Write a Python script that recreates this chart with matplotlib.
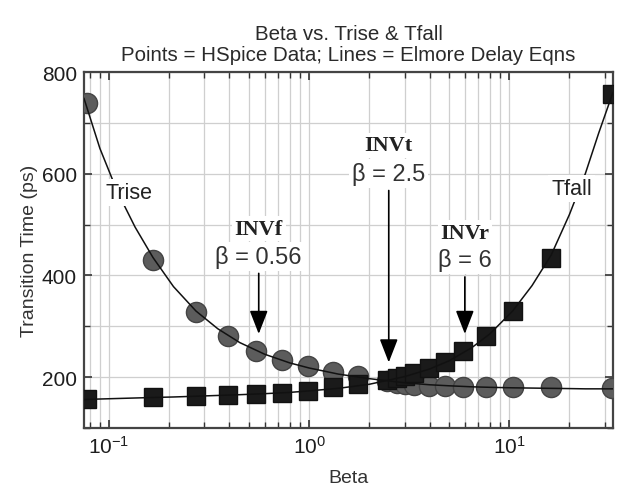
import matplotlib
matplotlib.use("Agg")
import matplotlib.pyplot as plt
from matplotlib.ticker import LogLocator, MultipleLocator, NullFormatter

plt.rcParams["font.family"] = ["Liberation Sans", "DejaVu Sans"]
plt.rcParams["mathtext.default"] = "regular"

# HSpice data points
beta = [0.0774, 0.166, 0.272, 0.395, 0.543, 0.735, 0.985, 1.32, 1.76, 2.45,
        2.75, 3.0, 3.35, 3.95, 4.79, 5.9, 7.66, 10.4, 16.2, 32.6]
trise_pts = [739, 431, 329, 280, 251, 233, 222, 210, 202, 193,
             189, 187, 184, 182, 182, 180, 180, 180, 180, 178]
tfall_pts = [157, 161, 163, 165, 167, 169, 172, 180, 187, 195,
             199, 203, 209, 217, 229, 251, 280, 331, 435, 757]

# Elmore delay curves
beta_line = [0.075, 0.09, 0.11, 0.135, 0.166, 0.21, 0.272, 0.35, 0.45, 0.6,
             0.8, 1.0, 1.4, 2.0, 3.0, 4.0, 5.0, 6.5, 8.0, 10.4,
             13, 16.2, 20, 24, 28, 33]
trise_line = [748, 650, 565, 495, 435, 378, 330, 295, 268, 245,
              228, 218, 206, 197, 189, 185, 183, 181, 180, 179,
              178.5, 178, 177.5, 177, 177, 177]
tfall_line = [156, 157, 158, 159, 160, 161, 162.5, 164, 165.5, 167.5,
              170, 173, 178, 186, 201, 216, 232, 258, 285, 330,
              380, 440, 520, 600, 680, 760]

# annotations: name, beta, arrow start, arrow tip
inv_names = ["INVf", "INVt", "INVr"]
inv_beta = [0.56, 2.5, 6]
inv_labels = ["\u03b2 = 0.56", "\u03b2 = 2.5", "\u03b2 = 6"]
arrow_top = [404, 567, 397]
arrow_tip = [285, 229, 285]
name_y = [492, 656, 484]
label_y = [437, 601, 431]

fig = plt.figure(figsize=(6.2, 4.89), dpi=100)
ax = fig.add_axes([0.1355, 0.1227, 0.8532, 0.728])

ax.plot(beta, trise_pts, "o", ms=14.5, color="#5c5c5c", mec="#444444", zorder=3)
ax.plot(beta, tfall_pts, "s", ms=13, color="#1a1a1a", mec="#111111", zorder=4)
ax.plot(beta_line, trise_line, "-", color="#111111", lw=1.1, zorder=5)
ax.plot(beta_line, tfall_line, "-", color="#111111", lw=1.1, zorder=5)

ax.set_xscale("log")
ax.set_xlim(0.075, 33)
ax.set_ylim(100, 800)
ax.yaxis.set_major_locator(MultipleLocator(200))
ax.yaxis.set_minor_locator(MultipleLocator(100))
ax.xaxis.set_minor_locator(LogLocator(base=10, subs=range(2, 10)))
ax.xaxis.set_minor_formatter(NullFormatter())

ax.grid(True, which="both", color="#cfcfcf", lw=0.9, zorder=0)
ax.set_axisbelow(True)
ax.tick_params(which="both", direction="in", top=True, right=True,
               colors="#333333", labelcolor="#1e1e1e", labelsize=15)
ax.tick_params(which="major", length=6, width=1.2, pad=5)
ax.tick_params(which="minor", length=4, width=1)
for s in ax.spines.values():
    s.set_color("#444444")
    s.set_linewidth(1.6)

ax.set_xlabel("Beta", fontsize=14, color="#333333", labelpad=9)
ax.set_ylabel("Transition Time (ps)", fontsize=14, color="#333333", labelpad=3)
ax.set_title("Beta vs. Trise & Tfall\nPoints = HSpice Data; Lines = Elmore Delay Eqns",
             fontsize=14.8, color="#2a2a2a", pad=9, linespacing=1.08)

box = dict(facecolor="white", edgecolor="none", pad=2)
ax.text(0.126, 563, "Trise", fontsize=15.5, color="#222222", ha="center", va="center", bbox=box, zorder=6)
ax.text(20.5, 571, "Tfall", fontsize=15.5, color="#222222", ha="center", va="center", bbox=box, zorder=6)

for i in range(len(inv_names)):
    ax.text(inv_beta[i], name_y[i], inv_names[i], family="Liberation Serif", weight="bold",
            fontsize=16, color="#222222", ha="center", va="center", bbox=box, zorder=6)
    ax.text(inv_beta[i], label_y[i], inv_labels[i], fontsize=17, color="#333333",
            ha="center", va="center", bbox=box, zorder=6)
    ax.annotate("", xy=(inv_beta[i], arrow_tip[i]), xytext=(inv_beta[i], arrow_top[i]),
                arrowprops=dict(arrowstyle="-|>,head_length=0.9,head_width=0.35",
                                mutation_scale=16, lw=1.2, color="black",
                                shrinkA=0, shrinkB=0), zorder=7)

fig.savefig("out.png", dpi=100)
